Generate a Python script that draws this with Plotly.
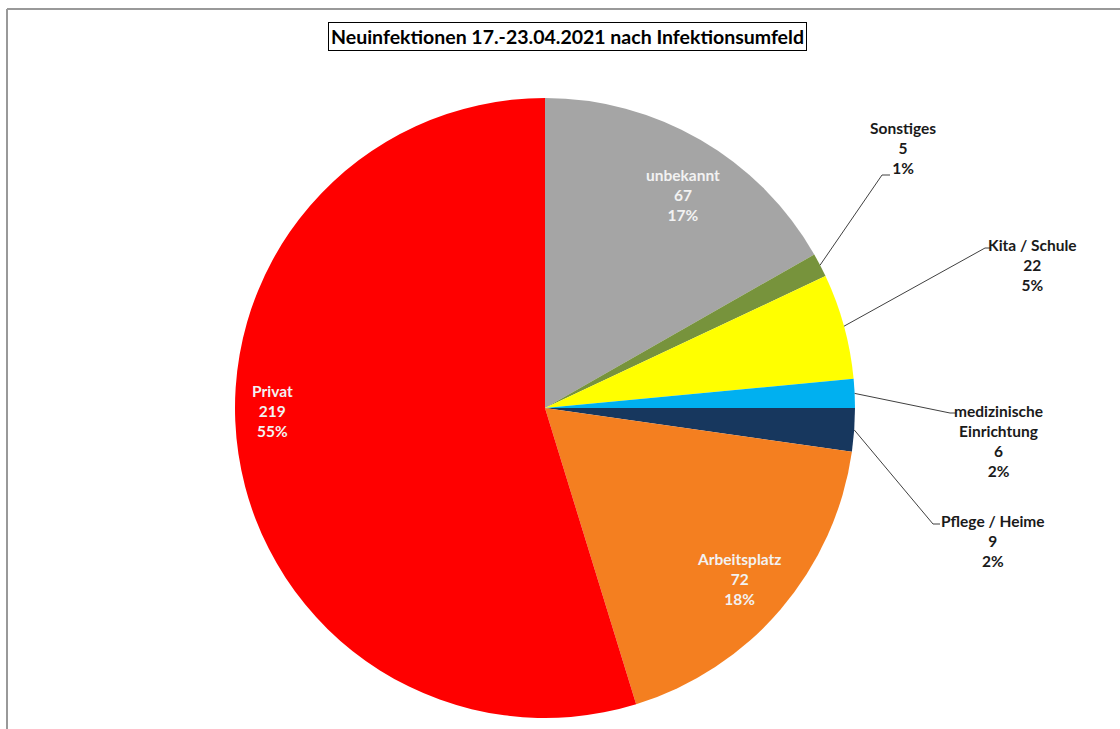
import math
import plotly.graph_objects as go

# ---- data ----
categories = ["unbekannt", "Sonstiges", "Kita / Schule", "medizinische<br>Einrichtung",
              "Pflege / Heime", "Arbeitsplatz", "Privat"]
values = [67, 5, 22, 6, 9, 72, 219]
percent_labels = ["17%", "1%", "5%", "2%", "2%", "18%", "55%"]
colors = ["#A5A5A5", "#77933C", "#FFFF00", "#00B0F0", "#17375E", "#F47F20", "#FF0000"]
title_text = "Neuinfektionen 17.-23.04.2021 nach Infektionsumfeld"

# ---- layout constants (pixels) ----
W, H = 1120, 729
CX, CY, R = 545, 408, 310
FONT = "Lato"


def paper(x, y):
    return x / W, 1 - y / H


# label placement (pixels): center of text block, and leader elbow point (or None)
label_pos = [
    ((683, 195), None, "#f2f2f2"),
    ((903, 148), ((882, 175), (890, 175)), "#1a1a1a"),
    ((1032, 265), ((985, 248), (991, 248)), "#1a1a1a"),
    ((998, 441), ((950, 413), (956, 413)), "#1a1a1a"),
    ((993, 541), ((933, 524), (940, 524)), "#1a1a1a"),
    ((739, 579), None, "#f2f2f2"),
    ((272, 411), None, "#f2f2f2"),
]

x0, y1 = paper(CX - R, CY - R)
x1, y0 = paper(CX + R, CY + R)

fig = go.Figure(go.Pie(
    labels=[c.replace("<br>", " ") for c in categories],
    values=values,
    sort=False,
    direction="clockwise",
    rotation=0,
    marker=dict(colors=colors, line=dict(width=0)),
    textinfo="none",
    hoverinfo="label+value+percent",
    domain=dict(x=[x0, x1], y=[y0, y1]),
    showlegend=False,
))

annotations = []
shapes = []
total = sum(values)
cum = 0
for i, (cat, v, pct) in enumerate(zip(categories, values, percent_labels)):
    mid = (cum + v / 2) / total * 2 * math.pi
    cum += v
    (lx, ly), leader, col = label_pos[i]
    ax, ay = paper(lx, ly)
    annotations.append(dict(
        x=ax, y=ay, xref="paper", yref="paper", xanchor="center", yanchor="middle",
        text=f"<b>{cat}<br>{v}<br>{pct}</b>", showarrow=False, align="center",
        font=dict(family=FONT, size=15.5, color=col),
    ))
    if leader is not None:
        sx = CX + R * math.sin(mid)
        sy = CY - R * math.cos(mid)
        pts = [(sx, sy), leader[0], leader[1]]
        for (a, b) in zip(pts[:-1], pts[1:]):
            pa, pb = paper(*a), paper(*b)
            shapes.append(dict(type="line", xref="paper", yref="paper",
                               x0=pa[0], y0=pa[1], x1=pb[0], y1=pb[1],
                               line=dict(color="#404040", width=1)))

# title box
tx, ty = paper(567, 37)
annotations.append(dict(
    x=tx, y=ty, xref="paper", yref="paper", xanchor="center", yanchor="middle",
    text=f"<b>{title_text}</b>", showarrow=False,
    font=dict(family=FONT, size=19.5, color="#000000"),
    bordercolor="#000000", borderwidth=1, borderpad=2, bgcolor="white",
))

# page border (top and left)
bx, by = paper(7, 9)
shapes.append(dict(type="line", xref="paper", yref="paper", x0=bx, y0=by, x1=1, y1=by,
                   line=dict(color="#999999", width=2)))
shapes.append(dict(type="line", xref="paper", yref="paper", x0=bx, y0=by, x1=bx, y1=0,
                   line=dict(color="#999999", width=2)))

fig.update_layout(
    width=W, height=H,
    margin=dict(l=0, r=0, t=0, b=0),
    paper_bgcolor="white", plot_bgcolor="white",
    annotations=annotations, shapes=shapes,
)

fig.write_html("out.html")
